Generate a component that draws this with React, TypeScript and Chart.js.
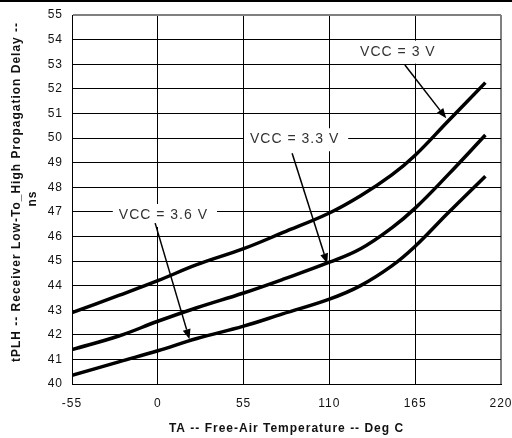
import React, { useEffect, useRef } from 'react';
import { Chart, registerables } from 'chart.js';

Chart.register(...registerables);

// ---- data ----
const temps = [-55, -25, 0, 25, 55, 80, 110, 130, 150, 165, 186, 210];
const vcc30 = [42.9, 43.6, 44.2, 44.85, 45.5, 46.15, 46.95, 47.65, 48.5, 49.3, 50.68, 52.25];
const vcc33 = [41.4, 41.95, 42.55, 43.1, 43.7, 44.25, 44.95, 45.5, 46.35, 47.15, 48.5, 50.12];
const vcc36 = [40.35, 40.9, 41.35, 41.85, 42.35, 42.85, 43.45, 44.0, 44.8, 45.6, 46.95, 48.45];
const xTicks = [-55, 0, 55, 110, 165, 220];
const yMin = 40;
const yMax = 55;
const seriesNames = ['VCC = 3 V', 'VCC = 3.3 V', 'VCC = 3.6 V'];
const labelAt = [[153.9, 53.51], [87.7, 49.95], [3.6, 46.87]];
const arrowFrom = [[158.4, 52.97], [86.1, 49.38], [-1.7, 46.54]];
const arrowTo = [[184.9, 50.8], [108.6, 44.9], [20.3, 41.82]];
const xTitle = 'TA -- Free-Air Temperature -- Deg C';
const yTitle = ['tPLH -- Receiver Low-To_High Propagation Delay --', 'ns'];

const FONT = "'Liberation Sans', Arial, sans-serif";

const annotationPlugin = {
  id: 'annots',
  beforeUpdate(chart: any) {
    chart.ctx.letterSpacing = '1px';
  },
  beforeDraw(chart: any) {
    chart.ctx.letterSpacing = '1px';
  },
  beforeDatasetsDraw(chart: any) {
    const ctx = chart.ctx;
    const xs = chart.scales.x;
    const ys = chart.scales.y;
    ctx.save();
    ctx.letterSpacing = '1px';
    ctx.font = `14px ${FONT}`;
    seriesNames.forEach((t, i) => {
      const px = xs.getPixelForValue(labelAt[i][0]);
      const py = ys.getPixelForValue(labelAt[i][1]);
      const w = ctx.measureText(t).width;
      ctx.fillStyle = '#ffffff';
      ctx.fillRect(px - w / 2 - 6, py - 11, w + 15, 23);
    });
    ctx.restore();
  },
  afterDatasetsDraw(chart: any) {
    const ctx = chart.ctx;
    const xs = chart.scales.x;
    const ys = chart.scales.y;
    ctx.save();
    ctx.letterSpacing = '1px';
    ctx.font = `14px ${FONT}`;
    ctx.textAlign = 'center';
    ctx.textBaseline = 'middle';
    seriesNames.forEach((t, i) => {
      const px = xs.getPixelForValue(labelAt[i][0]);
      const py = ys.getPixelForValue(labelAt[i][1]);
      ctx.fillStyle = '#333';
      ctx.fillText(t, px, py);
      const x1 = xs.getPixelForValue(arrowFrom[i][0]);
      const y1 = ys.getPixelForValue(arrowFrom[i][1]);
      const x2 = xs.getPixelForValue(arrowTo[i][0]);
      const y2 = ys.getPixelForValue(arrowTo[i][1]);
      const ang = Math.atan2(y2 - y1, x2 - x1);
      const hl = 10;
      const hw = 4;
      const bx = x2 - hl * Math.cos(ang);
      const by = y2 - hl * Math.sin(ang);
      ctx.strokeStyle = '#000';
      ctx.lineWidth = 1.5;
      ctx.beginPath();
      ctx.moveTo(x1, y1);
      ctx.lineTo(bx, by);
      ctx.stroke();
      ctx.fillStyle = '#000';
      ctx.beginPath();
      ctx.moveTo(x2, y2);
      ctx.lineTo(bx + hw * Math.sin(ang), by - hw * Math.cos(ang));
      ctx.lineTo(bx - hw * Math.sin(ang), by + hw * Math.cos(ang));
      ctx.closePath();
      ctx.fill();
    });
    ctx.restore();
  },
  afterDraw(chart: any) {
    const ctx = chart.ctx;
    const a = chart.chartArea;
    ctx.save();
    ctx.fillStyle = '#000';
    ctx.fillRect(0, 0, chart.width, 2);
    ctx.letterSpacing = '1px';
    ctx.font = `bold 12px ${FONT}`;
    ctx.fillStyle = '#111';
    ctx.textAlign = 'center';
    ctx.textBaseline = 'middle';
    ctx.fillText(xTitle, (a.left + a.right) / 2, a.bottom + 45);
    const cy = (a.top + a.bottom) / 2;
    ctx.save();
    ctx.translate(a.left - 55, cy - 7.5);
    ctx.rotate(-Math.PI / 2);
    ctx.fillText(yTitle[0], 0, 0);
    ctx.restore();
    ctx.save();
    ctx.translate(a.left - 39, cy - 1);
    ctx.rotate(-Math.PI / 2);
    ctx.fillText(yTitle[1], 0, 0);
    ctx.restore();
    ctx.restore();
  },
};

export default function App() {
  const ref = useRef<HTMLCanvasElement>(null);
  useEffect(() => {
    document.body.style.margin = '0';
    const mk = (vals: number[]) => temps.map((t, i) => ({ x: t, y: vals[i] }));
    const ds = (label: string, vals: number[]) => ({
      label,
      data: mk(vals),
      borderColor: '#000',
      borderWidth: 3.5,
      pointRadius: 0,
      fill: false,
      tension: 0.4,
    });
    const chart = new Chart(ref.current!, {
      type: 'line',
      data: {
        datasets: [ds(seriesNames[0], vcc30), ds(seriesNames[1], vcc33), ds(seriesNames[2], vcc36)],
      },
      options: {
        responsive: false,
        animation: false,
        layout: { padding: { top: 15, right: 11, left: 0, bottom: 0 } },
        plugins: { legend: { display: false }, tooltip: { enabled: false } },
        scales: {
          x: {
            type: 'linear',
            min: -55,
            max: 220,
            afterBuildTicks: (s: any) => {
              s.ticks = xTicks.map((v) => ({ value: v }));
            },
            afterFit: (s: any) => {
              s.height = 54;
              s.paddingLeft = 0;
              s.paddingRight = 0;
            },
            ticks: {
              padding: 12,
              color: '#111',
              font: { family: FONT, size: 12 },
            },
            grid: {
              drawTicks: false,
              color: (c: any) => (c.tick && c.tick.value === 220 ? '#808080' : '#000'),
              lineWidth: (c: any) => (c.tick && c.tick.value === 220 ? 2 : 1),
            },
            border: { display: true, color: '#000', width: 1 },
          },
          y: {
            type: 'linear',
            min: yMin,
            max: yMax,
            ticks: {
              stepSize: 1,
              padding: 9,
              color: '#111',
              font: { family: FONT, size: 12 },
            },
            afterFit: (s: any) => {
              s.width = 72;
              s.paddingTop = 0;
              s.paddingBottom = 0;
            },
            grid: {
              drawTicks: false,
              color: (c: any) => (c.tick && c.tick.value === yMax ? '#808080' : '#000'),
              lineWidth: (c: any) => (c.tick && c.tick.value === yMax ? 2 : 1),
            },
            border: { display: true, color: '#000', width: 1 },
          },
        },
      },
      plugins: [annotationPlugin],
    });
    return () => chart.destroy();
  }, []);
  return (
    <div style={{ width: 512, height: 438, background: '#fff' }}>
      <canvas ref={ref} width={512} height={438} />
    </div>
  );
}
